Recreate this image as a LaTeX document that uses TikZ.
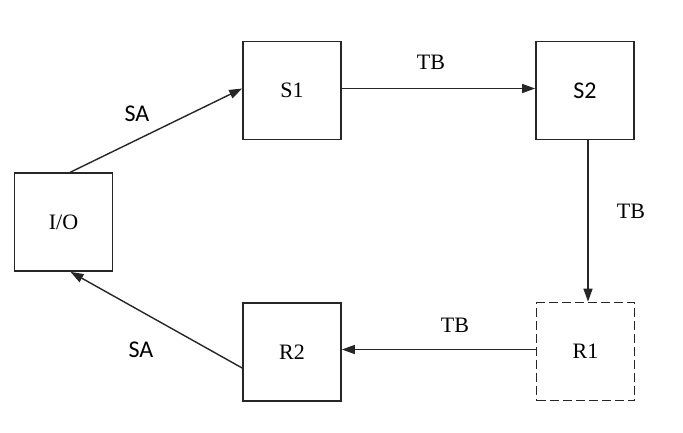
\documentclass[tikz,border=0pt]{standalone}
\usepackage{fontspec}
\setmainfont{Liberation Serif}
\newfontfamily\calib{Carlito}
\usetikzlibrary{arrows.meta,calc}
\begin{document}
\begin{tikzpicture}[x=1pt,y=-1pt,
  blk/.style={draw=black!85,line width=1.7pt,minimum width=98pt,minimum height=98pt,inner sep=0pt,
    font=\fontsize{22}{26}\selectfont},
  dblk/.style={blk,dash pattern=on 9pt off 4pt},
  conn/.style={draw=black!85,line width=1.4pt,-{Triangle[length=13pt,width=9pt]}},
  lbl/.style={font=\fontsize{22}{26}\selectfont,inner sep=0pt},
  slbl/.style={font=\calib\fontsize{24}{28}\selectfont,inner sep=0pt}]
\useasboundingbox (0,0) rectangle (683,432);
\node[blk] (io) at (63.5,222) {I/O};
\node[blk] (s1) at (292,90.5) {S1};
\node[blk,font=\calib\fontsize{24}{28}\selectfont] (s2) at (585,90.5) {S2};
\node[dblk] (r1) at (585.5,351.5) {R1};
\node[blk] (r2) at (292,352) {R2};
\coordinate (iotop) at ($(io.north west)!0.57!(io.north east)$);
\coordinate (iobot) at ($(io.south west)!0.57!(io.south east)$);
\draw[conn] (iotop) -- ($(s1.west)+(0,-2)$);
\draw[conn] ($(s1.east)+(0,-2)$) -- ($(s2.west)+(0,-2)$);
\draw[conn] ($(s2.south)+(3,0)$) -- ($(r1.north)+(2.5,0)$);
\draw[conn] ($(r1.west)+(0,-2)$) -- ($(r2.east)+(0,-2.5)$);
\draw[conn] ($(r2.west)+(0,16)$) -- (iobot);
\node[slbl] (la) at (137,114) {SA};
\node[lbl] (lb) at (431,62) {TB};
\node[lbl] (lc) at (631,211) {TB};
\node[lbl] (ld) at (455,325) {TB};
\node[slbl] (le) at (141,350) {SA};
\end{tikzpicture}
\end{document}
